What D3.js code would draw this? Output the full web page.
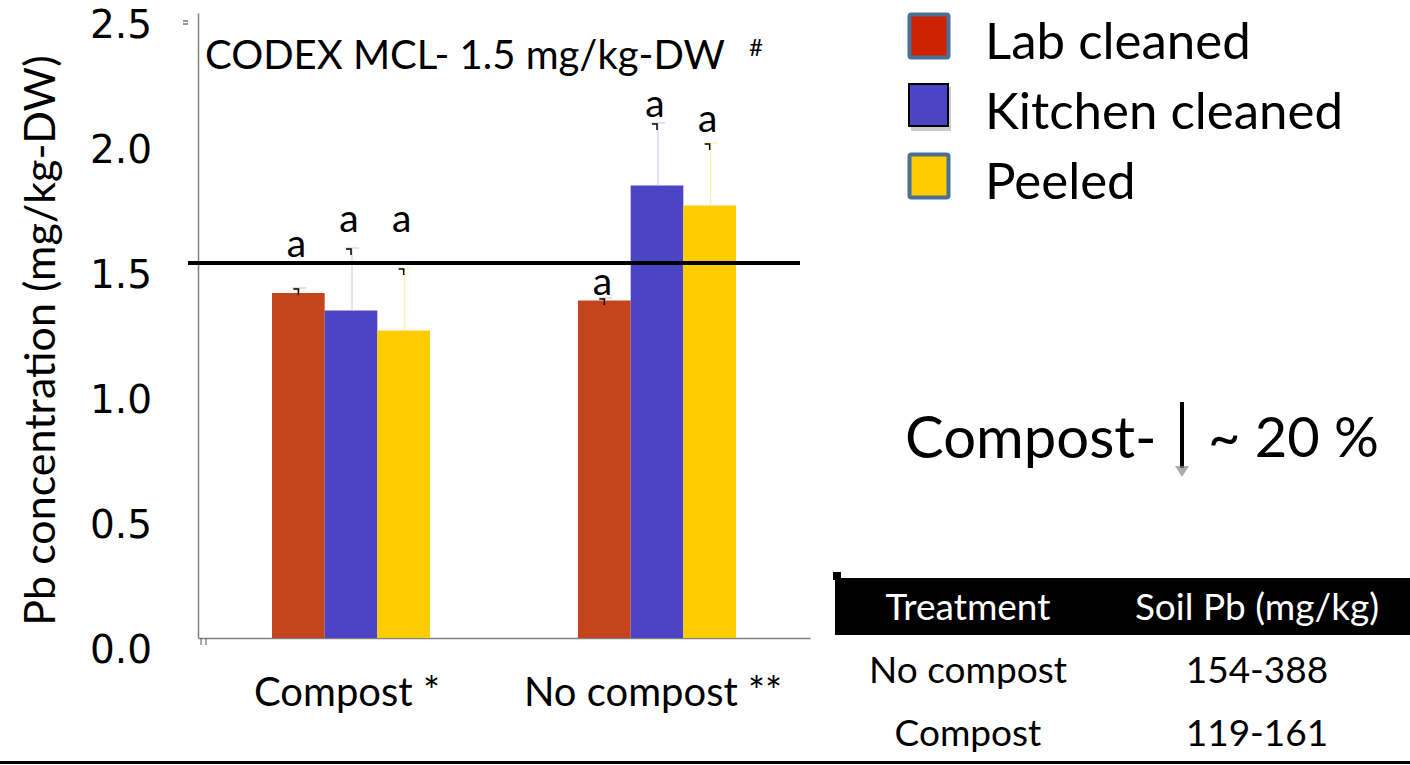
<!DOCTYPE html>
<html>
<head>
<meta charset="utf-8">
<script src="https://cdn.jsdelivr.net/npm/d3@7"></script>
<style>
  body { margin: 0; background: #fff; }
  svg { display: block; }
  text { font-family: Lato, "Open Sans", sans-serif; fill: #000; }
</style>
</head>
<body>
<div id="chart"></div>
<script>
// data
const groups = ["Compost *", "No compost **"];
const series = ["Lab cleaned", "Kitchen cleaned", "Peeled"];
const colors = ["#C4441C", "#4B44C4", "#FFCC00"];
const legendFill = ["#CC2200", "#4B44C4", "#FFCC00"];
const compostMean = [1.38, 1.31, 1.23];
const noCompostMean = [1.35, 1.81, 1.73];
const compostErr = [0.02, 0.25, 0.25];
const noCompostErr = [0.01, 0.25, 0.25];
// height (in mg/kg) where the significance letters sit
const compostLetterAt = [1.57, 1.67, 1.67];
const noCompostLetterAt = [1.42, 2.13, 2.07];
const letters = ["a", "a", "a"];
const mcl = 1.5;
const yTicks = [0, 0.5, 1.0, 1.5, 2.0, 2.5];
const tableHead = ["Treatment", "Soil Pb (mg/kg)"];
const tableTreatment = ["No compost", "Compost"];
const tableSoilPb = ["154-388", "119-161"];

const width = 1410, height = 765;
const margins = {top: 13, right: 600, bottom: 127, left: 198};

const svg = d3.select("#chart").append("svg")
    .attr("width", width).attr("height", height);

const x0 = d3.scaleBand().domain(groups)
    .range([margins.left, width - margins.right]);
const x1 = d3.scaleBand().domain(series).range([0, 158]);
const yScale = d3.scaleLinear().domain([0, 2.5])
    .range([height - margins.bottom, margins.top]);

const rows = [];
groups.forEach((g, gi) => {
    const means = gi === 0 ? compostMean : noCompostMean;
    const errs = gi === 0 ? compostErr : noCompostErr;
    const lets = gi === 0 ? compostLetterAt : noCompostLetterAt;
    series.forEach((s, si) => rows.push({
        group: g, series: s, i: si, mean: means[si], err: errs[si], letterAt: lets[si], letter: letters[si]
    }));
});
const barX = d => x0(d.group) + (x0.bandwidth() - 158) / 2 + x1(d.series);

// y axis
const yAxis = d3.axisLeft(yScale).tickValues(yTicks).tickFormat(d3.format(".1f")).tickSize(0).tickPadding(46);
const yGroup = svg.append("g").attr("transform", `translate(${margins.left},0)`).call(yAxis);
yGroup.select(".domain").attr("stroke", "#808080").attr("stroke-width", 1.5);
yGroup.selectAll("text")
    .attr("dy", "0.62em")
    .style("font-family", "'DejaVu Sans', Verdana, sans-serif")
    .style("font-size", "39px")
    .attr("fill", "#000");

// x axis
const xAxis = d3.axisBottom(x0).tickSize(0).tickPadding(40);
const xGroup = svg.append("g").attr("transform", `translate(0,${yScale(0)})`).call(xAxis);
xGroup.select(".domain").attr("stroke", "#808080").attr("stroke-width", 1.5);
xGroup.selectAll("text")
    .attr("dx", "-4")
    .style("font-family", "Lato, sans-serif")
    .style("font-size", "40px")
    .attr("fill", "#000");

// small tick marks at the origin
svg.append("path").attr("d", `M${margins.left + 3},${yScale(0)}v7M${margins.left + 8},${yScale(0)}v7`)
    .attr("stroke", "#555").attr("stroke-width", 1);
svg.append("path").attr("d", `M183,${margins.top + 8}h5M183,${margins.top + 11}h5`)
    .attr("stroke", "#333").attr("stroke-width", 1);

// bars
svg.append("g").selectAll("rect").data(rows).enter().append("rect")
    .attr("x", d => barX(d))
    .attr("y", d => yScale(d.mean))
    .attr("width", x1.bandwidth())
    .attr("height", d => yScale(0) - yScale(d.mean))
    .attr("fill", d => colors[d.i]);

// error bars (pale, one-sided)
const paleErr = ["#E8B0B0", "#C8C4F0", "#FFEE99"];
const eb = svg.append("g").selectAll("g").data(rows).enter().append("g");
eb.append("line")
    .attr("x1", d => barX(d) + x1.bandwidth() / 2 + 1)
    .attr("x2", d => barX(d) + x1.bandwidth() / 2 + 1)
    .attr("y1", d => yScale(d.mean))
    .attr("y2", d => yScale(d.mean + d.err))
    .attr("stroke", d => paleErr[d.i]).attr("stroke-width", 1);
eb.append("line")
    .attr("x1", d => barX(d) + x1.bandwidth() / 2 - 6)
    .attr("x2", d => barX(d) + x1.bandwidth() / 2 + 8)
    .attr("y1", d => yScale(d.mean + d.err))
    .attr("y2", d => yScale(d.mean + d.err))
    .attr("stroke", d => paleErr[d.i]).attr("stroke-width", 1);
eb.append("path")
    .attr("d", d => {
        const cx = barX(d) + x1.bandwidth() / 2;
        const cy = yScale(d.mean + d.err);
        return `M${cx - 5},${cy + 1}h5v6`;
    })
    .attr("fill", "none").attr("stroke", "#000").attr("stroke-width", 1.5);

// significance letters
svg.append("g").selectAll("text").data(rows).enter().append("text")
    .attr("x", d => barX(d) + x1.bandwidth() / 2 - 2)
    .attr("y", d => yScale(d.letterAt))
    .attr("dy", "0.3em")
    .attr("text-anchor", "middle")
    .style("font-size", "39px")
    .text(d => d.letter);

// CODEX MCL line
svg.append("line")
    .attr("x1", margins.left - 10).attr("x2", width - margins.right - 10)
    .attr("y1", yScale(mcl)).attr("y2", yScale(mcl))
    .attr("stroke", "#000").attr("stroke-width", 4);

svg.append("text").attr("x", 205).attr("y", 69)
    .style("font-size", "40px")
    .text("CODEX MCL- 1.5 mg/kg-DW");
svg.append("text").attr("x", 749).attr("y", 56)
    .style("font-size", "24px")
    .text("#");

// y label
svg.append("text")
    .attr("transform", `translate(55,${(yScale(0) + yScale(2.5)) / 2 + 15}) rotate(-90)`)
    .attr("text-anchor", "middle")
    .style("font-size", "43px")
    .text("Pb concentration (mg/kg-DW)");

// legend
const legend = svg.append("g");
series.forEach((s, i) => {
    const g = legend.append("g").attr("transform", `translate(908,${13 + i * 70})`);
    if (i === 1) {
        g.append("rect").attr("x", 3).attr("y", 4).attr("width", 40).attr("height", 44)
            .attr("fill", "#999").attr("opacity", 0.5);
        g.append("rect").attr("x", 1).attr("y", 1).attr("width", 39).attr("height", 42)
            .attr("fill", legendFill[i]).attr("stroke", "#000").attr("stroke-width", 2);
    } else {
        g.append("rect").attr("x", 1.5).attr("y", 1.5).attr("width", 39).attr("height", 43)
            .attr("rx", 2)
            .attr("fill", legendFill[i]).attr("stroke", "#4A7098").attr("stroke-width", 4);
    }
    g.append("text").attr("x", 77).attr("y", 28).attr("dy", "0.36em")
        .style("font-size", "51px")
        .text(s);
});

// compost annotation
svg.append("text").attr("x", 905).attr("y", 437).attr("dy", "0.36em")
    .style("font-size", "58px").text("Compost-");
svg.append("line").attr("x1", 1182).attr("x2", 1182).attr("y1", 402).attr("y2", 468)
    .attr("stroke", "#000").attr("stroke-width", 4);
svg.append("path").attr("d", "M1175,466L1189,466L1182,477Z").attr("fill", "#888").attr("opacity", 0.7);
svg.append("text").attr("x", 1208).attr("y", 437).attr("dy", "0.36em")
    .style("font-size", "56px").text("~ 20 %");

// soil table
const colX = [968, 1257];
svg.append("rect").attr("x", 833).attr("y", 572).attr("width", 8).attr("height", 8).attr("fill", "#000");
svg.append("rect").attr("x", 835).attr("y", 578).attr("width", width - 835).attr("height", 57).attr("fill", "#000");
tableHead.forEach((h, i) => {
    svg.append("text").attr("x", colX[i]).attr("y", 607).attr("dy", "0.36em")
        .attr("text-anchor", "middle").style("font-size", "37px").style("fill", "#fff").text(h);
});
tableTreatment.forEach((t, r) => {
    svg.append("text").attr("x", colX[0]).attr("y", 670 + r * 63).attr("dy", "0.36em")
        .attr("text-anchor", "middle").style("font-size", "37px").text(t);
    svg.append("text").attr("x", colX[1]).attr("y", 670 + r * 63).attr("dy", "0.36em")
        .attr("text-anchor", "middle").style("font-size", "37px").text(tableSoilPb[r]);
});

// bottom rule
svg.append("line").attr("x1", 0).attr("x2", width).attr("y1", 762.5).attr("y2", 762.5)
    .attr("stroke", "#000").attr("stroke-width", 3);
</script>
</body>
</html>
